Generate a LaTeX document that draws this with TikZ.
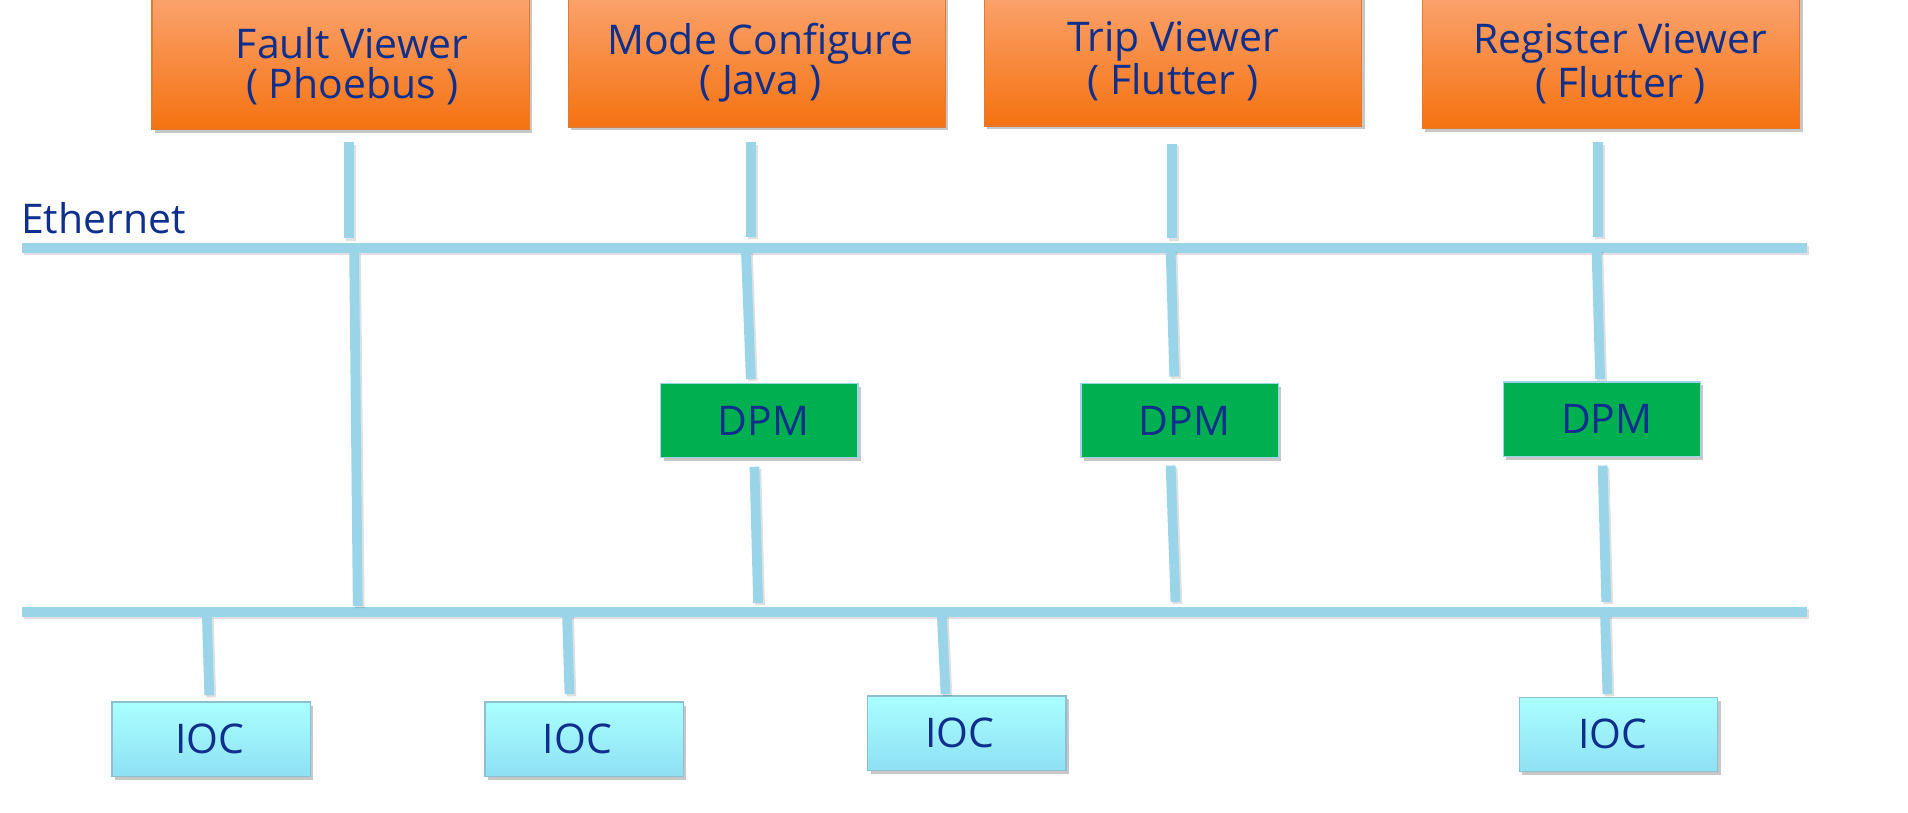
\documentclass[tikz,border=0pt]{standalone}
\usepackage{fontspec}
\setmainfont{Open Sans}
\usetikzlibrary{shadows}
\definecolor{txt}{HTML}{0E2F8C}
\definecolor{orgt}{HTML}{FBAB7E}
\definecolor{orgb}{HTML}{F57210}
\definecolor{orgd}{HTML}{E27A30}
\definecolor{dpmg}{HTML}{00AF50}
\definecolor{iocT}{HTML}{AAFFFF}
\definecolor{iocB}{HTML}{8EE0F3}
\definecolor{lnc}{HTML}{9AD4E8}
\begin{document}
\begin{tikzpicture}[x=0.5pt,y=-0.5pt,
  lbl/.style={font=\fontsize{16.8}{16.5}\selectfont, text=txt, align=center, inner sep=0pt},
  shd/.style={drop shadow={shadow xshift=1.2pt, shadow yshift=-1.4pt, fill=black, opacity=0.22}},
  app/.style={shd, draw=orgd, line width=0.6pt, top color=orgt, bottom color=orgb,
    minimum width=155pt, minimum height=63.5pt, inner sep=0pt, anchor=south},
  dpm/.style={shd, draw=lnc, line width=0.6pt, fill=dpmg, minimum width=81pt, minimum height=30.5pt,
    inner sep=0pt, font=\fontsize{16.8}{16.5}\selectfont, text=txt},
  ioc/.style={shd, draw=lnc!90!black, line width=0.6pt, top color=iocT, bottom color=iocB,
    minimum width=81.5pt, minimum height=30.5pt, inner sep=0pt, font=\fontsize{16.8}{16.5}\selectfont, text=txt},
  conn/.style={draw=lnc, line width=4pt,
    preaction={draw=black, opacity=0.12, line width=4pt, transform canvas={shift={(0.8pt,-0.9pt)}}}}
]
\useasboundingbox (0,0) rectangle (1568,668);
\clip (0,0) rectangle (1568,668);
\fill[white] (0,0) rectangle (1568,668);

% application boxes (top edges run off the page)
\node[app] (fv) at (280,107) {};
\node[app] (mc) at (622,105) {};
\node[app] (tv) at (964,104) {};
\node[app] (rv) at (1324,106) {};
\node[lbl] (fvt) at (289.5,54.5) {Fault Viewer\\( Phoebus )};
\node[lbl] (mct) at (625,51.5) {Mode Configure\\( Java )};
\node[lbl] (tvt) at (964,50.5) {Trip Viewer\\( Flutter )};
\node[lbl] (rvt) at (1331.5,52.5) {Register Viewer\\( Flutter )};

% buses
\coordinate (eL) at (18,204);
\coordinate (eR) at (1485,204);
\coordinate (bL) at (18,503);
\coordinate (bR) at (1485,503);
\node[lbl, anchor=west] (eth) at (17,179) {Ethernet};

% DPM boxes
\node[dpm] (d1) at (624,345.5) {\hspace{3.5pt}DPM};
\node[dpm] (d2) at (969.5,345.5) {\hspace{4pt}DPM};
\node[dpm] (d3) at (1316.5,344.5) {\hspace{4pt}DPM};

% IOC boxes
\node[ioc] (i1) at (173.5,607.5) {\hspace{-1pt}IOC};
\node[ioc] (i2) at (480,607.5) {\hspace{-5.5pt}IOC};
\node[ioc] (i3) at (794.5,602.5) {\hspace{-5.5pt}IOC};
\node[ioc] (i4) at (1330,603.5) {\hspace{-4.5pt}IOC};

\draw[conn] (eL) -- (eR);
\draw[conn] (bL) -- (bR);

% application stubs to Ethernet
\draw[conn] ([shift={(7,10)}]fv.south) -- ([shift={(7,89)}]fv.south);
\draw[conn] ([shift={(-5,12)}]mc.south) -- ([shift={(-5,90)}]mc.south);
\draw[conn] ([shift={(-1,14)}]tv.south) -- ([shift={(-1,92)}]tv.south);
\draw[conn] ([shift={(-11,11)}]rv.south) -- ([shift={(-11,89)}]rv.south);

% Fault viewer path straight down to lower bus
\coordinate (fA) at (291,207);
\coordinate (fB) at (294,498);
\draw[conn] (fA) -- (fB);

% Ethernet to DPM
\draw[conn] ([shift={(-11,-108)}]d1.north) -- ([shift={(-7,-3)}]d1.north);
\draw[conn] ([shift={(-7.5,-109)}]d2.north) -- ([shift={(-4.5,-5)}]d2.north);
\draw[conn] ([shift={(-4.5,-108)}]d3.north) -- ([shift={(-1.5,-2)}]d3.north);

% DPM to lower bus
\draw[conn] ([shift={(-4,7)}]d1.south) -- ([shift={(-1,119)}]d1.south);
\draw[conn] ([shift={(-7.5,6)}]d2.south) -- ([shift={(-3.5,118)}]d2.south);
\draw[conn] ([shift={(0.5,7)}]d3.south) -- ([shift={(3.5,119)}]d3.south);

% lower bus to IOCs
\draw[conn] ([shift={(-3.5,-70)}]i1.north) -- ([shift={(-1.5,-5)}]i1.north);
\draw[conn] ([shift={(-14,-71)}]i2.north) -- ([shift={(-12,-6)}]i2.north);
\draw[conn] ([shift={(-20.5,-66)}]i3.north) -- ([shift={(-17.5,-1)}]i3.north);
\draw[conn] ([shift={(-11,-67)}]i4.north) -- ([shift={(-9,-2)}]i4.north);
\end{tikzpicture}
\end{document}
